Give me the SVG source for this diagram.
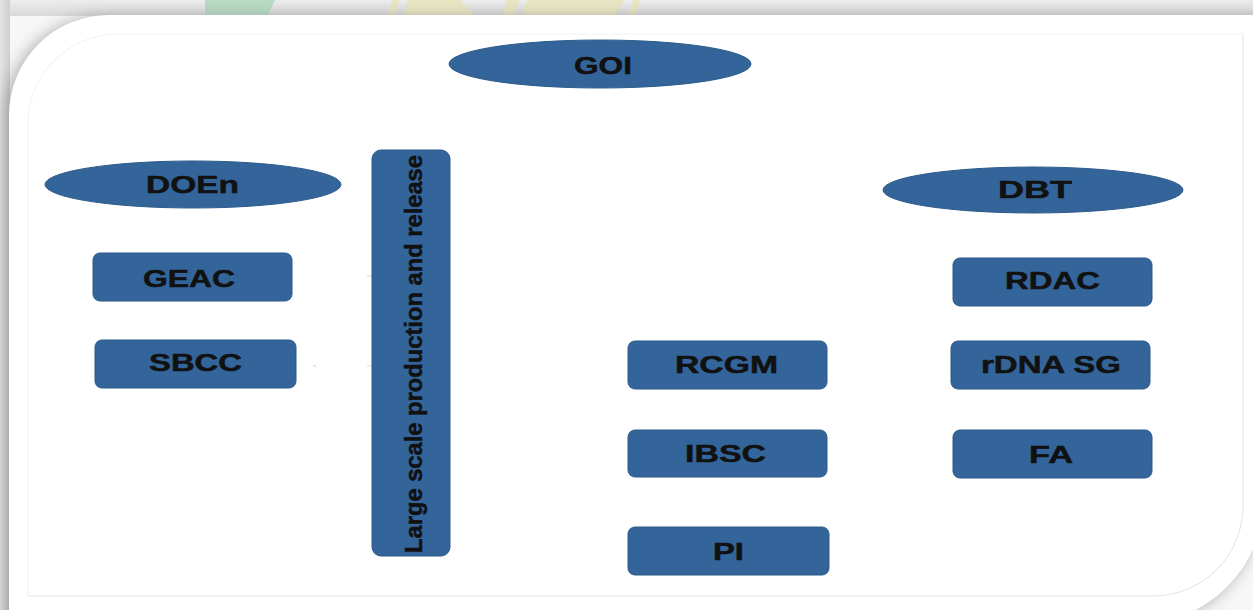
<svg xmlns="http://www.w3.org/2000/svg" width="1253" height="610" viewBox="0 0 1253 610">
  <defs>
    <style>
      .node { fill: #33659a; stroke: #2c5a8a; stroke-width: 1; }
      .lbl { font-family: "Liberation Sans", Arial, sans-serif; font-weight: bold; font-size: 24px; fill: #111111; stroke: #111111; stroke-width: 0.5; }
      .stub { stroke: #ffffff; stroke-width: 1.5; fill: none; }
      .wm-y { fill: #e8e6c2; }
      .wm-g { fill: #b7dbc4; }
    </style>
    <linearGradient id="band" x1="0" y1="0" x2="0" y2="1">
      <stop offset="0" stop-color="#ededed"/>
      <stop offset="1" stop-color="#d9d9d9"/>
    </linearGradient>
    <linearGradient id="side" x1="0" y1="0" x2="1" y2="0">
      <stop offset="0" stop-color="#e4e4e4"/>
      <stop offset="1" stop-color="#cfcfcf"/>
    </linearGradient>
    <filter id="blur" x="-10%" y="-10%" width="120%" height="120%">
      <feGaussianBlur stdDeviation="8"/>
    </filter>
  </defs>

  <!-- background -->
  <rect x="0" y="0" width="1253" height="610" fill="#f7f7f7"/>
  <rect x="0" y="0" width="1253" height="16" fill="url(#band)"/>
  <rect x="0" y="0" width="10" height="610" fill="url(#side)"/>
  <!-- faint watermark in top band -->
  <polygon class="wm-g" points="205,0 275,0 268,15 205,15"/>
  <polygon class="wm-y" points="392,0 399,0 395,15 388,15"/>
  <polygon class="wm-y" points="408,0 460,0 474,15 404,15"/>
  <polygon class="wm-y" points="507,0 519,0 514,15 502,15"/>
  <polygon class="wm-y" points="527,0 624,0 616,15 522,15"/>
  <polygon class="wm-y" points="633,0 640,0 636,15 629,15"/>

  <!-- card shadow and card -->
  <path d="M 9 115 A 100 100 0 0 1 109 15 H 1265 V 495 A 130 130 0 0 1 1135 625 H 9 Z" fill="#7a7a7a" opacity="0.6" filter="url(#blur)" transform="translate(-4,2)"/>
  <path d="M 9 115 A 100 100 0 0 1 109 15 H 1265 V 495 A 130 130 0 0 1 1135 625 H 9 Z" fill="#ffffff"/>
  <path d="M 1243 34 V 506 A 90 90 0 0 1 1153 596 H 28" fill="none" stroke="#e2e2e2" stroke-width="1"/>
  <path d="M 28 596 V 124 A 90 90 0 0 1 118 34 H 1243" fill="none" stroke="#f1f1f1" stroke-width="1"/>

  <!-- connector remnants -->
  <g id="connectors">
    <line class="stub" x1="585" y1="78" x2="585" y2="89"/>
    <line class="stub" x1="193" y1="203" x2="193" y2="209"/>
    <line class="stub" x1="193" y1="340" x2="193" y2="344"/>
    <line class="stub" x1="290" y1="366" x2="297" y2="366"/>
    <line x1="313" y1="366" x2="316" y2="366" stroke="#dddddd" stroke-width="1.5"/>
    <line x1="367" y1="276" x2="372" y2="276" stroke="#e6e6e6" stroke-width="1.5"/>
    <line x1="367" y1="366" x2="372" y2="366" stroke="#e6e6e6" stroke-width="1.5"/>
    <line class="stub" x1="719" y1="430" x2="719" y2="440"/>
    <line class="stub" x1="1040" y1="430" x2="1040" y2="478"/>
  </g>

  <g id="GOI">
    <ellipse class="node" cx="600" cy="64" rx="151" ry="24"/>
    <text class="lbl" x="574" y="74" textLength="58" lengthAdjust="spacingAndGlyphs">GOI</text>
  </g>
  <g id="DOEn">
    <ellipse class="node" cx="193" cy="184.5" rx="148" ry="23.5"/>
    <text class="lbl" x="146" y="193" textLength="93" lengthAdjust="spacingAndGlyphs">DOEn</text>
  </g>
  <g id="DBT">
    <ellipse class="node" cx="1033" cy="190" rx="150" ry="23"/>
    <text class="lbl" x="998" y="198" textLength="74" lengthAdjust="spacingAndGlyphs">DBT</text>
  </g>
  <g id="GEAC">
    <rect class="node" x="93" y="253" width="199" height="48" rx="7"/>
    <text class="lbl" x="143" y="287" textLength="92" lengthAdjust="spacingAndGlyphs">GEAC</text>
  </g>
  <g id="SBCC">
    <rect class="node" x="95" y="340" width="201" height="48" rx="7"/>
    <text class="lbl" x="149" y="371" textLength="93" lengthAdjust="spacingAndGlyphs">SBCC</text>
  </g>
  <g id="LargeScale">
    <rect class="node" x="372" y="150" width="78" height="406" rx="9"/>
    <text class="lbl" transform="translate(422,354) rotate(-90)" x="-199" y="0" font-size="27" textLength="398" lengthAdjust="spacingAndGlyphs">Large scale production and release</text>
  </g>
  <g id="RCGM">
    <rect class="node" x="628" y="341" width="199" height="48" rx="7"/>
    <text class="lbl" x="675" y="373" textLength="103" lengthAdjust="spacingAndGlyphs">RCGM</text>
  </g>
  <g id="IBSC">
    <rect class="node" x="628" y="430" width="199" height="47" rx="7"/>
    <text class="lbl" x="685" y="462" textLength="81" lengthAdjust="spacingAndGlyphs">IBSC</text>
  </g>
  <g id="PI">
    <rect class="node" x="628" y="527" width="201" height="48" rx="7"/>
    <text class="lbl" x="713" y="560" textLength="31" lengthAdjust="spacingAndGlyphs">PI</text>
  </g>
  <g id="RDAC">
    <rect class="node" x="953" y="258" width="199" height="48" rx="7"/>
    <text class="lbl" x="1005" y="289" textLength="95" lengthAdjust="spacingAndGlyphs">RDAC</text>
  </g>
  <g id="rDNASG">
    <rect class="node" x="951" y="341" width="199" height="48" rx="7"/>
    <text class="lbl" x="981" y="373" textLength="140" lengthAdjust="spacingAndGlyphs">rDNA SG</text>
  </g>
  <g id="FA">
    <rect class="node" x="953" y="430" width="199" height="48" rx="7"/>
    <text class="lbl" x="1029" y="463" textLength="44" lengthAdjust="spacingAndGlyphs">FA</text>
  </g>
</svg>
